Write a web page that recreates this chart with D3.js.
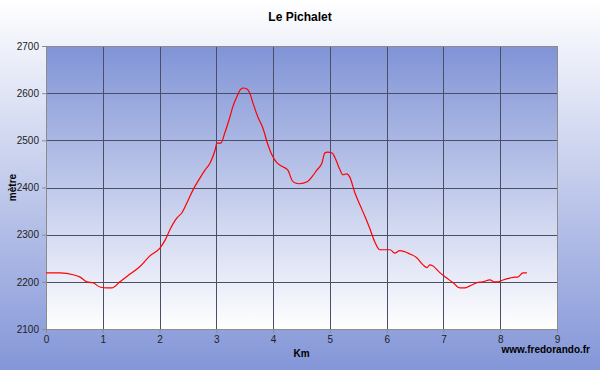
<!DOCTYPE html>
<html lang="en">
<head>
<meta charset="UTF-8">
<title>Le Pichalet</title>
<script src="https://d3js.org/d3.v7.min.js"></script>
<style>
    body { margin: 0; }
    text { font-family: Arial, "Liberation Sans", sans-serif; }
</style>
</head>
<body>
<script>
    // profile: distance (km) and altitude (m)
    var km = [0.00, 0.25, 0.48, 0.60, 0.72, 0.83, 0.95, 1.07, 1.16, 1.30, 1.43, 1.65, 1.83,
        2.01, 2.10, 2.18, 2.31, 2.39, 2.48, 2.59, 2.71, 2.80, 2.89, 2.98, 3.01, 3.08, 3.15,
        3.24, 3.29, 3.36, 3.42, 3.47, 3.54, 3.59, 3.64, 3.73, 3.82, 3.91, 3.98, 4.07, 4.17,
        4.26, 4.33, 4.38, 4.47, 4.60, 4.68, 4.77, 4.86, 4.91, 4.96, 5.04, 5.09, 5.18, 5.23,
        5.30, 5.35, 5.44, 5.53, 5.62, 5.70, 5.79, 5.88, 6.06, 6.14, 6.23, 6.41, 6.53, 6.64,
        6.71, 6.76, 6.81, 6.94, 7.06, 7.17, 7.29, 7.38, 7.46, 7.59, 7.69, 7.82, 7.90, 7.96,
        8.05, 8.17, 8.26, 8.31, 8.40, 8.47];
    var alt = [2219, 2219, 2215, 2210, 2200, 2198, 2189, 2187, 2187, 2200, 2212, 2232, 2255,
        2272, 2289, 2310, 2336, 2346, 2367, 2395, 2420, 2437, 2452, 2480, 2494, 2494, 2516,
        2550, 2571, 2592, 2607, 2611, 2609, 2600, 2581, 2550, 2526, 2490, 2469, 2452, 2444,
        2437, 2416, 2410, 2408, 2412, 2422, 2437, 2452, 2473, 2475, 2473, 2463, 2437, 2427,
        2429, 2422, 2389, 2363, 2338, 2314, 2285, 2268, 2268, 2261, 2266, 2259, 2251, 2236,
        2230, 2236, 2234, 2219, 2208, 2198, 2187, 2187, 2191, 2198, 2200, 2204, 2200, 2200,
        2204, 2208, 2210, 2210, 2219, 2219];
    var xTicks = [0, 1, 2, 3, 4, 5, 6, 7, 8, 9];
    var yTicks = [2100, 2200, 2300, 2400, 2500, 2600, 2700];

    var W = 600, H = 370;
    var margin = { top: 46, right: 43, bottom: 41, left: 46 };
    var width = W - margin.left - margin.right;
    var height = H - margin.top - margin.bottom;

    var svg = d3.select("body").append("svg")
        .attr("width", W)
        .attr("height", H);

    var defs = svg.append("defs");
    var bg = defs.append("linearGradient").attr("id", "bg")
        .attr("x1", 0).attr("y1", 0).attr("x2", 0).attr("y2", 1);
    bg.append("stop").attr("offset", "0%").attr("stop-color", "#ffffff");
    bg.append("stop").attr("offset", "100%").attr("stop-color", "#8496d8");

    var plotBg = defs.append("linearGradient").attr("id", "plotBg")
        .attr("x1", 0).attr("y1", 0).attr("x2", 0).attr("y2", 1);
    plotBg.append("stop").attr("offset", "0%").attr("stop-color", "#8093d6");
    plotBg.append("stop").attr("offset", "100%").attr("stop-color", "#ffffff");

    svg.append("rect")
        .attr("width", W).attr("height", H)
        .attr("fill", "url(#bg)");

    var g = svg.append("g")
        .attr("transform", "translate(" + margin.left + "," + margin.top + ")");

    var x = d3.scaleLinear().domain([0, 9]).range([0, width]);
    var y = d3.scaleLinear().domain([2100, 2700]).range([height, 0]);

    g.append("rect")
        .attr("width", width).attr("height", height)
        .attr("fill", "url(#plotBg)");

    // grid
    g.selectAll(".vgrid").data(xTicks.slice(1, -1)).enter().append("line")
        .attr("x1", d => Math.round(x(d)) + 0.5).attr("x2", d => Math.round(x(d)) + 0.5)
        .attr("y1", 0).attr("y2", height)
        .attr("stroke", "#4a4f66").attr("stroke-width", 1);
    g.selectAll(".hgrid").data(yTicks.slice(1, -1)).enter().append("line")
        .attr("x1", 0).attr("x2", width)
        .attr("y1", d => Math.round(y(d)) + 0.5).attr("y2", d => Math.round(y(d)) + 0.5)
        .attr("stroke", "#4a4f66").attr("stroke-width", 1);

    g.append("rect")
        .attr("x", 0.5).attr("y", 0.5)
        .attr("width", width).attr("height", height)
        .attr("fill", "none").attr("stroke", "#8c8c8c");

    // axes
    var xAxis = g.append("g")
        .attr("transform", "translate(0," + height + ")")
        .call(d3.axisBottom(x).tickValues(xTicks).tickSize(4).tickFormat(d3.format("d")));
    var yAxis = g.append("g")
        .call(d3.axisLeft(y).tickValues(yTicks).tickSize(4).tickFormat(d3.format("d")));
    [xAxis, yAxis].forEach(a => {
        a.select(".domain").attr("stroke", "#8c8c8c");
        a.selectAll(".tick line").attr("stroke", "#8c8c8c");
        a.selectAll("text").attr("fill", "#222").style("font-size", "10px")
            .style("font-family", "Arial, 'Liberation Sans', sans-serif");
    });
    yAxis.selectAll("text").attr("x", -7);
    xAxis.selectAll("text").attr("y", 7);

    // profile line
    var pts = km.map((d, i) => [d, alt[i]]);
    g.append("path")
        .datum(pts)
        .attr("fill", "none")
        .attr("stroke", "#ff0000")
        .attr("stroke-width", 1.2)
        .attr("d", d3.line().x(d => x(d[0])).y(d => y(d[1])).curve(d3.curveMonotoneX));

    // labels
    svg.append("text")
        .attr("x", 300).attr("y", 21)
        .attr("text-anchor", "middle")
        .style("font-size", "12px").style("font-weight", "bold")
        .text("Le Pichalet");
    svg.append("text")
        .attr("transform", "translate(16," + (margin.top + height / 2) + ") rotate(-90)")
        .attr("text-anchor", "middle")
        .style("font-size", "10px").style("font-weight", "bold")
        .text("mètre");
    svg.append("text")
        .attr("x", margin.left + width / 2).attr("y", 357)
        .attr("text-anchor", "middle")
        .style("font-size", "10px").style("font-weight", "bold")
        .text("Km");
    svg.append("text")
        .attr("x", 590).attr("y", 353)
        .attr("text-anchor", "end")
        .style("font-size", "10px").style("font-weight", "bold")
        .text("www.fredorando.fr");
</script>
</body>
</html>
